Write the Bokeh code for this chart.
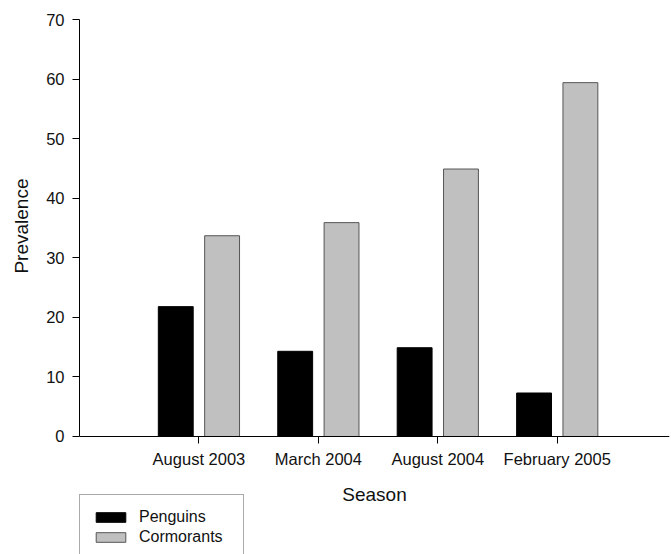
from bokeh.plotting import figure
from bokeh.models import ColumnDataSource, Range1d, FixedTicker, Legend, LegendItem, LinearAxis, Title
from bokeh.transform import dodge
from bokeh.embed import file_html
from bokeh.resources import INLINE

seasons = ["August 2003", "March 2004", "August 2004", "February 2005"]
positions = [1, 2, 3, 4]
penguins = [21.8, 14.3, 14.9, 7.3]
cormorants = [33.7, 35.9, 44.9, 59.4]
y_ticks = [0, 10, 20, 30, 40, 50, 60, 70]

src = ColumnDataSource(dict(x=positions, season=seasons, penguins=penguins, cormorants=cormorants))

FONT = "Liberation Sans"

# frame runs from the top of the value axis down to the bottom of the canvas,
# so that the legend below the season axis can be placed inside it
p = figure(width=671, height=554, output_backend="svg", toolbar_location=None,
           x_range=Range1d(0, 4.94), y_range=Range1d(-19.81, 70),
           x_axis_location=None,
           min_border_left=78, min_border_right=2, min_border_top=19, min_border_bottom=0)
p.outline_line_color = None
p.xgrid.visible = False
p.ygrid.visible = False
p.background_fill_color = "white"
p.border_fill_color = "white"

r1 = p.vbar(x=dodge("x", -0.194, range=p.x_range), top="penguins", width=0.292, bottom=0,
            source=src, fill_color="black", line_color="black", line_width=1)
r2 = p.vbar(x=dodge("x", 0.194, range=p.x_range), top="cormorants", width=0.292, bottom=0,
            source=src, fill_color="#c0c0c0", line_color="#555555", line_width=1)

xaxis = LinearAxis(fixed_location=0)
p.add_layout(xaxis, "below")

xaxis.ticker = FixedTicker(ticks=positions)
xaxis.major_label_overrides = {pos: s for pos, s in zip(positions, seasons)}
yaxis = p.yaxis[0]
yaxis.ticker = FixedTicker(ticks=y_ticks)
yaxis.bounds = (0, 70)
for ax in (xaxis, yaxis):
    ax.axis_line_color = "black"
    ax.axis_line_width = 1
    ax.major_tick_line_color = "black"
    ax.major_tick_in = 0
    ax.major_tick_out = 7
    ax.minor_tick_line_color = None
    ax.major_label_text_font = FONT
    ax.major_label_text_font_size = "16.5px"
    ax.major_label_text_color = "#111111"
    ax.axis_label_text_font = FONT
    ax.axis_label_text_font_size = "19px"
    ax.axis_label_text_font_style = "normal"
    ax.axis_label_text_color = "#111111"

xaxis.major_label_standoff = 7
yaxis.major_label_standoff = 8
xaxis.axis_label = "Season"
xaxis.axis_label_standoff = 12

# value-axis title, placed along the 0-70 part of the axis
ytitle = Title(text="Prevalence", align="right", offset=159, vertical_align="top",
               standoff=20, text_font=FONT, text_font_size="19px",
               text_font_style="normal", text_color="#111111")
p.add_layout(ytitle, "left")

legend = Legend(items=[LegendItem(label="Penguins", renderers=[r1]),
                       LegendItem(label="Cormorants", renderers=[r2])],
                location=(0, -6))
legend.label_text_font = FONT
legend.label_text_font_size = "16px"
legend.label_text_color = "#111111"
legend.glyph_width = 37
legend.glyph_height = 12
legend.label_height = 20
legend.label_width = 92
legend.spacing = 0
legend.padding = 12
legend.label_standoff = 10
legend.border_line_color = "#555555"
legend.border_line_width = 1
legend.background_fill_color = "white"
legend.background_fill_alpha = 1
legend.margin = 0
p.add_layout(legend, "center")

open("out.html", "w").write(file_html(p, INLINE))
